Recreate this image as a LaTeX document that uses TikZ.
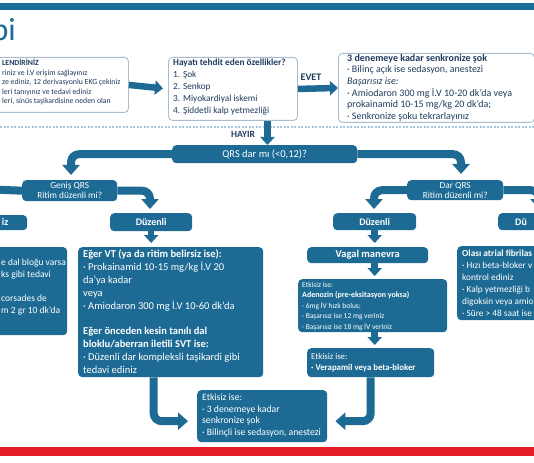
\documentclass[tikz,border=0pt]{standalone}
\usepackage{fontspec}
\setmainfont{Carlito}
\usetikzlibrary{arrows.meta}
\definecolor{tealA}{HTML}{1D6B94}
\definecolor{navyA}{HTML}{1F3B5E}
\definecolor{bordA}{HTML}{A9BDCC}
\definecolor{dashA}{HTML}{A8C7DD}
\definecolor{redA}{HTML}{E41E26}
\definecolor{topA}{HTML}{1B6E98}
\definecolor{titleA}{HTML}{1C6996}
\newcommand\fsz[2]{\fontsize{#1}{#2}\selectfont}
\begin{document}
\begin{tikzpicture}[x=1pt,y=-1pt,
  wbox/.style={draw=bordA, line width=0.9pt, fill=white, rounded corners=4pt, inner sep=0pt, anchor=north west},
  tbox/.style={fill=tealA, rounded corners=4pt, text=white, align=center, inner sep=0pt, anchor=north west},
  txt/.style={anchor=base west, inner sep=0pt, align=left},
  band/.style={draw=tealA, line width=8pt, rounded corners=8pt, -{Triangle[width=17pt,length=10pt]}},
  sarr/.style={draw=tealA, line width=6.5pt, -{Triangle[width=14pt,length=8pt]}},
  lbl/.style={inner sep=0pt, text=navyA, font=\bfseries\fsz{10}{12}}
]
\useasboundingbox (0,0) rectangle (534,462);
\clip (0,0) rectangle (534,462);
\fill[white] (0,0) rectangle (534,462);
% bars
\fill[topA] (0,3) rectangle (534,10);
\fill[redA] (0,447) rectangle (534,456);
\draw[dashA, line width=1.2pt, dash pattern=on 2pt off 1.5pt] (0,127) -- (534,127);
% title
\node[anchor=base east, inner sep=0pt, text=titleA, font=\fsz{32}{32}] (title) at (16,41) {bi};

% top row (text nodes anchored at the baseline of their last line)
\node[wbox, minimum width=138pt, minimum height=55pt] (l0) at (-10,57) {};
\node[txt, text=navyA, font=\fsz{7.8}{9.4}] (l0t) at (2,103.6) {\textbf{LENDİRİNİZ}\\
riniz ve İ.V erişim sağlayınız\\
ze ediniz, 12 derivasyonlu EKG çekiniz\\
leri tanıyınız ve tedavi ediniz\\
leri, sinüs taşikardisine neden olan};

\node[wbox, minimum width=129pt, minimum height=63pt] (hay) at (168,57) {};
\node[txt, text=navyA, font=\fsz{9.3}{12}] (hayt) at (173,114) {\textbf{Hayatı tehdit eden özellikler?}\\
1. Şok\\
2. Senkop\\
3. Miyokardiyal iskemi\\
4. Şiddetli kalp yetmezliği};

\node[wbox, minimum width=196pt, minimum height=69pt] (sok) at (338,53) {};
\node[txt, text=navyA, font=\fsz{10}{11.6}] (sokt) at (347,119.3) {\textbf{3 denemeye kadar senkronize şok}\\
· Bilinç açık ise sedasyon, anestezi\\
\textit{Başarısız ise:}\\
· Amiodaron 300 mg İ.V 10-20 dk’da veya\\
prokainamid 10-15 mg/kg 20 dk’da;\\
· Senkronize şoku tekrarlayınız};

\draw[sarr, shorten >=5pt] (l0.east) -- (hay.west);
\draw[sarr] (hay.east) -- (sok.west);
\node[lbl, anchor=base] (evet) at (311,81) {EVET};

% QRS
\node[tbox, minimum width=185pt, minimum height=18pt, font=\fsz{10.5}{12}] (qrs) at (172,145) {QRS dar mı (<0,12)?};
\draw[sarr] ([xshift=34.5pt]hay.south) -- ([xshift=34.5pt]hay.south |- qrs.north);
\node[lbl, anchor=base, font=\bfseries\fsz{9.5}{12}] (hayir) at (243,137.5) {HAYIR};

\node[tbox, minimum width=95pt, minimum height=21pt, font=\fsz{9.3}{10}] (genis) at (22,180) {Geniş QRS\\Ritim düzenli mi?};
\node[tbox, minimum width=96pt, minimum height=20pt, font=\fsz{9.3}{10}] (dar) at (407,180) {Dar QRS\\Ritim düzenli mi?};

\coordinate (gtip) at (71,175);
\coordinate (dtip) at (461,174);
\coordinate (gleft) at (-20,189);
\draw[band] (qrs.west) -| (gtip);
\draw[band] (qrs.east) -| (dtip);
\draw[draw=tealA, line width=8pt] (genis.west) -- (gleft);

% second level
\node[tbox, minimum width=77pt, minimum height=15pt] (dzz) at (-50,215) {};
\node[anchor=base east, inner sep=0pt, text=white, font=\bfseries\fsz{10}{12}] (dzzt) at (8.5,225.5) {iz};
\node[tbox, minimum width=82pt, minimum height=18pt, font=\bfseries\fsz{10}{12}] (dzl) at (110,213) {Düzenli};
\node[tbox, minimum width=83pt, minimum height=17pt, font=\bfseries\fsz{10}{12}] (dzr) at (333,213) {Düzenli};
\node[tbox, minimum width=80pt, minimum height=17pt] (dzr2) at (498,213) {};
\node[txt, text=white, font=\bfseries\fsz{10}{12}] (dzr2t) at (515,225) {Dü};

\coordinate (ltip) at (150,209);
\coordinate (rtip) at (374,209);
\coordinate (r2tip) at (539,209);
\draw[band] (genis.east) -| (ltip);
\draw[band] (dar.west) -| (rtip);
\draw[band] (dar.east) -| (r2tip);

% left column
\node[tbox, minimum width=87pt, minimum height=88pt] (lbig) at (-20,247) {};
\node[txt, text=white, font=\fsz{9.5}{12}] (lbigt) at (1,313.3) {e dal bloğu varsa\\
ks gibi tedavi\\
~\\
corsades de\\
m 2 gr 10 dk’da};

\node[tbox, minimum width=185pt, minimum height=130pt] (bigl) at (78,247) {};
\node[txt, text=white, font=\fsz{10.5}{12.9}] (biglt) at (83,373.5) {\textbf{Eğer VT (ya da ritim belirsiz ise):}\\
· Prokainamid 10-15 mg/kg İ.V 20\\
da’ya kadar\\
veya\\
· Amiodaron 300 mg İ.V 10-60 dk’da\\
~\\
\textbf{Eğer önceden kesin tanılı dal}\\
\textbf{bloklu/aberran iletili SVT ise:}\\
· Düzenli dar kompleksli taşikardi gibi\\
tedavi ediniz};
\draw[sarr, shorten >=4pt] (dzl.south) -- (dzl.south |- bigl.north);

% right column
\node[tbox, minimum width=121pt, minimum height=16pt, font=\bfseries\fsz{10.5}{12}] (vagal) at (307,247) {Vagal manevra};
\node[tbox, minimum width=149pt, minimum height=53pt] (aden) at (298,279) {};
\node[txt, text=white, font=\fsz{7.5}{10.6}] (adent) at (302,329.4) {Etkisiz ise:\\
{\bfseries\fsz{8}{10.6}Adenozin (pre-eksitasyon yoksa)}\\
· 6mg İV hızlı bolus;\\
· Başarısız ise 12 mg veriniz\\
· Başarısız ise 18 mg İV veriniz};
\node[tbox, minimum width=127pt, minimum height=29pt] (verap) at (307,348) {};
\node[txt, text=white, font=\fsz{8.8}{11.5}] (verapt) at (311,370.5) {Etkisiz ise:\\
\textbf{· Verapamil veya beta-bloker}};
\node[tbox, minimum width=100pt, minimum height=74pt] (olasi) at (457,246) {};
\node[txt, text=white, font=\fsz{9.3}{12}] (olasit) at (462,316) {\textbf{Olası atrial fibrilas}\\
· Hızı beta-bloker v\\
kontrol ediniz\\
· Kalp yetmezliği b\\
digoksin veya amio\\
· Süre > 48 saat ise};

\draw[sarr, shorten >=4pt] (dzr.south) -- (dzr.south |- vagal.north);
\draw[sarr, shorten >=3pt] (vagal.south -| dzr.south) -- (aden.north -| dzr.south);
\draw[sarr, shorten >=3pt] (aden.south -| dzr.south) -- (verap.north -| dzr.south);

% final
\node[tbox, minimum width=130pt, minimum height=52pt] (fin) at (197,390) {};
\node[txt, text=white, font=\fsz{9.7}{11.8}] (fint) at (202,435.6) {Etkisiz ise:\\
· 3 denemeye kadar\\
senkronize şok\\
· Bilinçli ise sedasyon, anestezi};
\draw[band, shorten >=9pt] ([xshift=-17pt]bigl.south) |- ([yshift=-5pt]fin.west);
\draw[band, shorten >=8pt] (verap.south) |- ([yshift=-5pt]fin.east);
\end{tikzpicture}
\end{document}
